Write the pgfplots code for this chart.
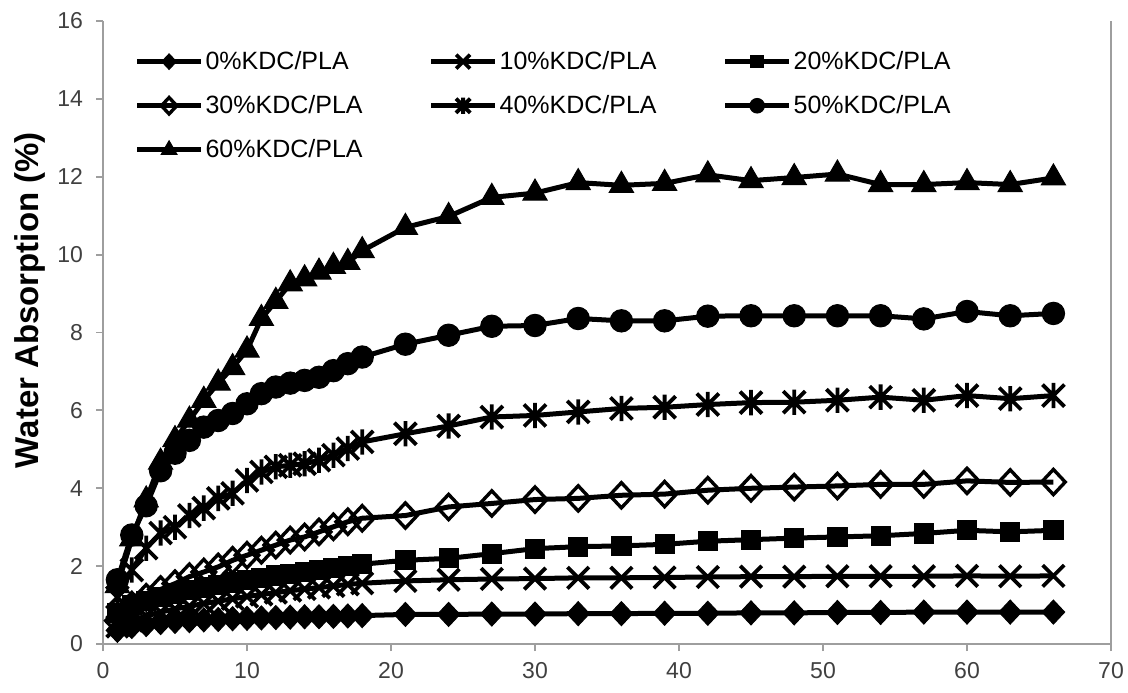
\documentclass[border=0pt]{standalone}
\usepackage{pgfplots}
\pgfplotsset{compat=1.18}
\usepackage{pgfplotstable}
\usepackage{fontspec}
\setmainfont{Liberation Sans}

\pgfdeclareplotmark{xstar}{%
  \pgfpathmoveto{\pgfqpoint{-\pgfplotmarksize}{-\pgfplotmarksize}}%
  \pgfpathlineto{\pgfqpoint{\pgfplotmarksize}{\pgfplotmarksize}}%
  \pgfpathmoveto{\pgfqpoint{-\pgfplotmarksize}{\pgfplotmarksize}}%
  \pgfpathlineto{\pgfqpoint{\pgfplotmarksize}{-\pgfplotmarksize}}%
  \pgfpathmoveto{\pgfqpoint{0pt}{-1.15\pgfplotmarksize}}%
  \pgfpathlineto{\pgfqpoint{0pt}{1.15\pgfplotmarksize}}%
  \pgfusepathqstroke
}

\pgfplotstableread{
x  p0   p10  p20  p30  p40  p50  p60
1  0.35 0.45 0.80 0.60 1.20 1.65 1.50
2  0.45 0.60 1.00 1.00 1.90 2.80 2.70
3  0.50 0.72 1.10 1.20 2.46 3.55 3.70
4  0.55 0.82 1.20 1.40 2.85 4.45 4.67
5  0.58 0.90 1.30 1.55 3.00 4.90 5.25
6  0.60 0.97 1.38 1.73 3.30 5.23 5.75
7  0.62 1.04 1.45 1.85 3.49 5.57 6.26
8  0.63 1.10 1.52 1.98 3.74 5.74 6.70
9  0.65 1.16 1.58 2.15 3.87 5.92 7.10
10 0.66 1.22 1.64 2.28 4.20 6.17 7.55
11 0.67 1.27 1.70 2.41 4.42 6.43 8.36
12 0.68 1.32 1.76 2.54 4.55 6.60 8.80
13 0.69 1.37 1.80 2.67 4.59 6.70 9.25
14 0.70 1.41 1.85 2.75 4.63 6.77 9.38
15 0.70 1.45 1.90 2.88 4.72 6.85 9.55
16 0.71 1.49 1.95 3.01 4.85 7.02 9.70
17 0.72 1.53 2.00 3.14 5.02 7.20 9.80
18 0.73 1.56 2.05 3.23 5.19 7.37 10.10
21 0.76 1.62 2.15 3.30 5.40 7.70 10.70
24 0.76 1.65 2.20 3.52 5.60 7.93 10.98
27 0.77 1.67 2.32 3.61 5.83 8.16 11.47
30 0.77 1.68 2.45 3.71 5.87 8.18 11.58
33 0.78 1.70 2.50 3.74 5.96 8.36 11.85
36 0.78 1.70 2.52 3.82 6.05 8.30 11.78
39 0.79 1.71 2.56 3.85 6.08 8.30 11.83
42 0.79 1.72 2.64 3.95 6.15 8.42 12.05
45 0.80 1.73 2.68 4.00 6.20 8.43 11.90
48 0.80 1.73 2.72 4.03 6.21 8.43 11.98
51 0.81 1.74 2.75 4.06 6.26 8.43 12.07
54 0.81 1.74 2.78 4.10 6.34 8.43 11.80
57 0.82 1.74 2.84 4.10 6.26 8.35 11.80
60 0.82 1.75 2.92 4.19 6.38 8.54 11.85
63 0.82 1.74 2.88 4.15 6.30 8.43 11.80
66 0.82 1.75 2.92 4.16 6.38 8.49 11.97
}\datatable

\begin{document}
\begin{tikzpicture}
\begin{axis}[
  scale only axis,
  width=504pt, height=311.5pt,
  xmin=0, xmax=70, ymin=0, ymax=16,
  xtick={0,10,...,70}, ytick={0,2,...,16},
  axis x line*=bottom, axis y line*=left,
  axis line style={black!38, line width=0.9pt, -},
  tick align=outside,
  major tick length=3.5pt,
  tick style={black!38, line width=0.9pt},
  /pgf/number format/assume math mode=true,
  ticklabel style={font=\fontsize{11.5}{13}\selectfont, text=black!75},
  xticklabel style={yshift=-2pt},
  yticklabel style={xshift=-3pt},
  ylabel={\textbf{Water Absorption (\%)}},
  every axis y label/.style={at={(axis description cs:-0.0724,0.552)}, rotate=90, anchor=center, font=\fontsize{16.5}{18}\selectfont},
  clip=false,
  every axis plot/.append style={line width=2.5pt, black},
  legend columns=3,
  legend cell align=left,
  legend style={draw=none, fill=none, at={(axis description cs:0.025,0.962)}, anchor=north west,
    font=\fontsize{12.5}{14}\selectfont, row sep=9.5pt,
    /tikz/every even column/.append style={column sep=32pt},
    nodes={inner sep=1pt}},
  legend image code/.code={\draw[#1,every mark/.append style={scale=0.65},mark repeat=2,mark phase=2] plot coordinates {(0pt,0pt) (16pt,0pt) (32pt,0pt)};},
]
\coordinate (ll) at (rel axis cs:0,0);
\coordinate (ur) at (rel axis cs:1,1);
\draw[black!38, line width=0.9pt] (rel axis cs:1,0) -- (rel axis cs:1,1);
\addplot[mark=diamond*, mark size=6pt, mark options={xscale=1.25, line width=0.5pt, fill=black}] table[x=x,y=p0] {\datatable};
\addlegendentry{0\%KDC/PLA}
\addplot[mark=x, mark size=7.6pt, mark options={line width=1.9pt}] table[x=x,y=p10] {\datatable};
\addlegendentry{10\%KDC/PLA}
\addplot[mark=square*, mark size=4.8pt, mark options={line width=0.5pt, fill=black}] table[x=x,y=p20] {\datatable};
\addlegendentry{20\%KDC/PLA}
\addplot[mark=diamond, mark size=6.3pt, mark options={xscale=1.25, line width=1.7pt}] table[x=x,y=p30] {\datatable};
\addlegendentry{30\%KDC/PLA}
\addplot[mark=xstar, mark size=5.5pt, mark options={line width=1.9pt}] table[x=x,y=p40] {\datatable};
\addlegendentry{40\%KDC/PLA}
\addplot[mark=*, mark size=5.6pt, mark options={line width=0.5pt, fill=black}] table[x=x,y=p50] {\datatable};
\addlegendentry{50\%KDC/PLA}
\addplot[mark=triangle*, mark size=7pt, mark options={line width=0.5pt, fill=black}] table[x=x,y=p60] {\datatable};
\addlegendentry{60\%KDC/PLA}
\end{axis}
\pgfresetboundingbox
\path[use as bounding box] ([shift={(-51.5pt,-24pt)}]ll) rectangle ([shift={(8.5pt,10.5pt)}]ur);
\end{tikzpicture}
\end{document}
